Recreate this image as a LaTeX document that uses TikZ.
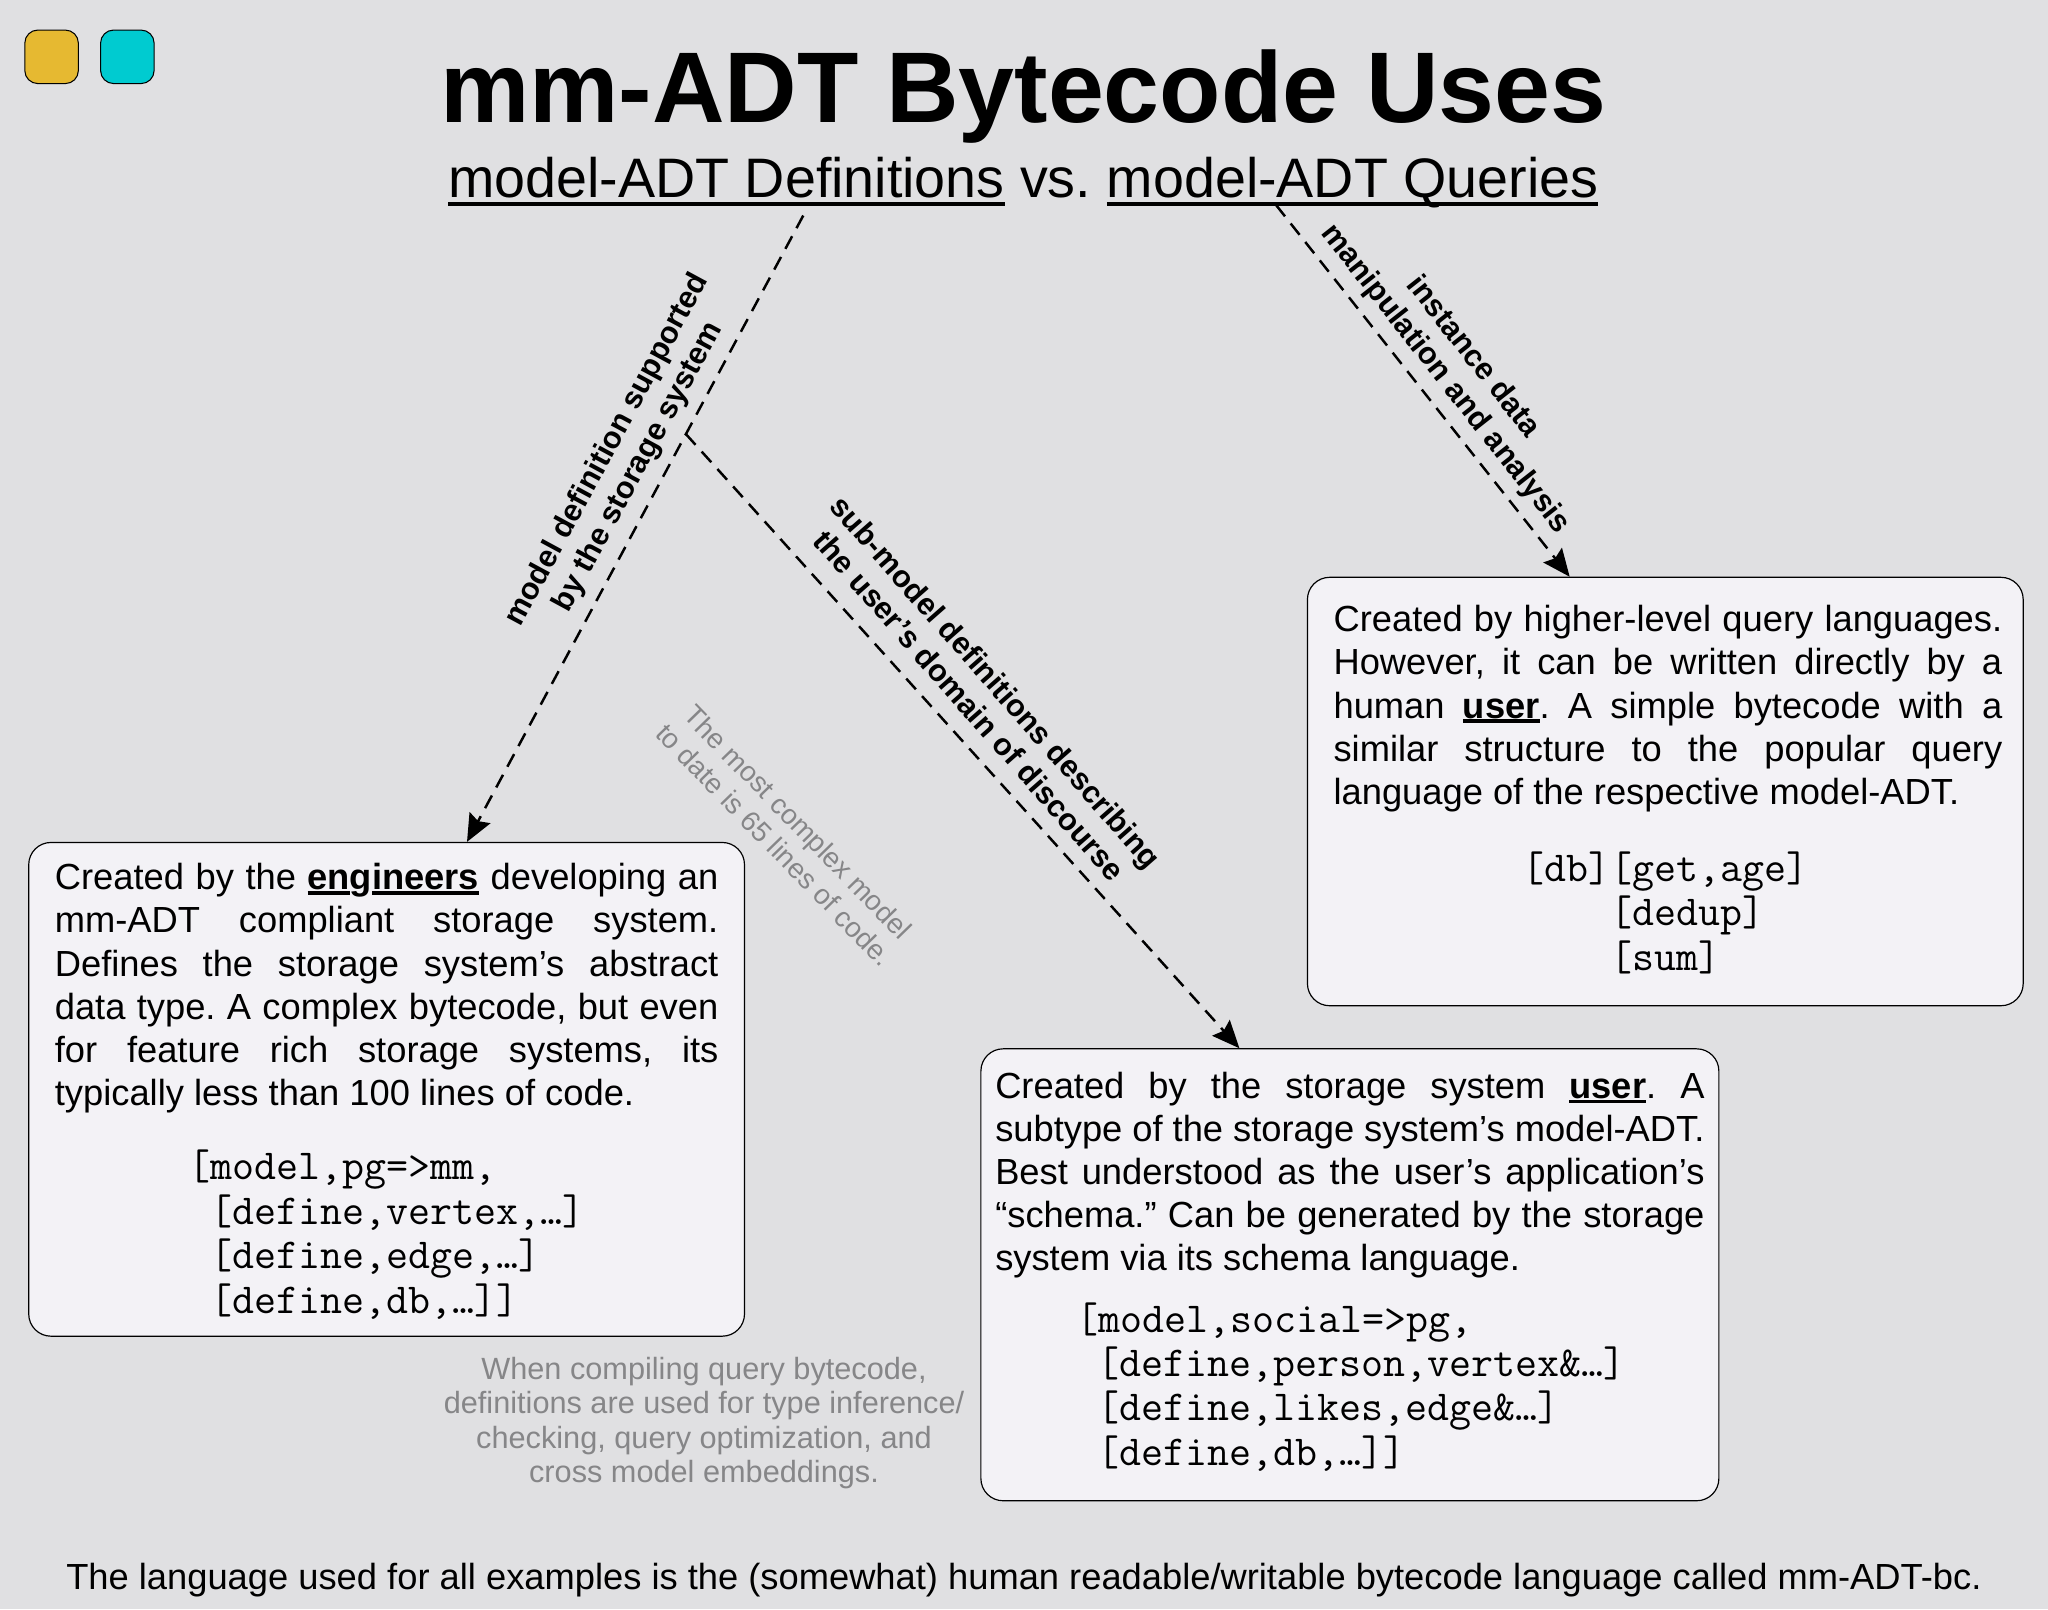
\documentclass[tikz,border=0pt]{standalone}
\usepackage{fontspec}
\setmainfont{Liberation Sans}
\usetikzlibrary{positioning, arrows.meta, calc}
\frenchspacing
\definecolor{canvas}{HTML}{E0E0E2}
\definecolor{boxfill}{HTML}{F3F2F6}
\definecolor{note}{HTML}{868688}
\definecolor{amber}{HTML}{E6B931}
\definecolor{teal}{HTML}{00CBD0}
\newcommand{\undertext}[3]{\setbox0=\hbox{#3}\rlap{\rule[#1]{\wd0}{#2}}\box0\relax}
\newcommand{\codeln}[2]{\par\noindent\hspace*{#1}#2}
\newcommand{\boxpad}[1]{\par\kern#1\relax}
\newcommand{\codefont}{\ttfamily\fontsize{32.7}{34}\selectfont}
\tikzstyle{swatch} = [rectangle, draw, rounded corners=10pt, minimum width=41pt, minimum height=41pt, line width=0.8pt]
\tikzstyle{textbox} = [rectangle, draw, fill=boxfill, rounded corners=17pt, line width=0.9pt, align=justify, inner ysep=0pt, font=\fontsize{27.8}{33}\selectfont]
\tikzstyle{edgelabel} = [align=center, font=\bfseries\fontsize{23.5}{27}\selectfont]
\tikzstyle{sidenote} = [align=center, text=note, font=\fontsize{21.4}{25}\selectfont]
\tikzstyle{line} = [draw, line width=1.9pt, dash pattern=on 11pt off 7pt, -{Stealth[length=21pt, width=18pt, inset=3pt]}]

\begin{document}
\begin{tikzpicture}[x=1pt, y=-1pt, node distance=58pt]
        \path [use as bounding box, fill=canvas] (0,0) rectangle (1568,1232);

        % Nodes
        \node (amberbox) [swatch, fill=amber] at (39.5,43.5) {};
        \node (tealbox) [swatch, fill=teal, right of=amberbox] {};

        \node (title) at (783.5,74) {\bfseries\fontsize{76.9}{80}\selectfont mm-ADT Bytecode Uses};
        \node (subtitle) [below of=title, yshift=-8pt] {\fontsize{42.6}{48}\selectfont \undertext{-6pt}{3pt}{model-ADT Definitions} vs. \undertext{-6pt}{3pt}{model-ADT Queries}};

        \node (enginebox) [textbox, text width=508pt, inner xsep=20pt, minimum height=378pt] at (296,834) {Created by the \textbf{\undertext{-4pt}{3pt}{en}g\undertext{-4pt}{3pt}{ineers}} developing an\linebreak mm-ADT compliant storage system.\linebreak Defines the storage system’s abstract\linebreak data type. A complex bytecode, but even\linebreak for feature rich storage systems, its\linebreak typically less than 100 lines of code.\par\vspace{23pt}\codefont
            \codeln{102pt}{[model,pg=>mm,}
            \codeln{119pt}{[define,vertex,…]}
            \codeln{119pt}{[define,edge,…]}
            \codeln{119pt}{[define,db,…]]}\boxpad{-3pt}};

        \node (querybox) [textbox, text width=516pt, inner xsep=16pt, minimum height=328pt] at (1275,606) {\leftskip=4pt Created by higher-level query languages.\linebreak However, it can be written directly by a\linebreak human \textbf{\undertext{-4pt}{3pt}{user}}. A simple bytecode with a\linebreak similar structure to the popular query\linebreak language of the respective model-ADT.\par\vspace{25pt}\codefont
            \codeln{145pt}{[db][get,age]}
            \codeln{212pt}{[dedup]}
            \codeln{212pt}{[sum]}\boxpad{3pt}};

        \node (userbox) [textbox, text width=543pt, inner xsep=11pt, minimum height=346pt] at (1033.5,976) {Created by the storage system \textbf{\undertext{-4pt}{3pt}{user}}. A\linebreak subtype of the storage system’s model-ADT.\linebreak Best understood as the user’s application’s\linebreak “schema.” Can be generated by the storage\linebreak system via its schema language.\par\vspace{13pt}\codefont
            \codeln{62pt}{[model,social=>pg,}
            \codeln{78pt}{[define,person,vertex\&…]}
            \codeln{78pt}{[define,likes,edge\&…]}
            \codeln{78pt}{[define,db,…]]}\boxpad{5pt}};

        \node (deflabel) [edgelabel, rotate=61.6] at (477,351) {model definition supported\\by the storage system};
        \node (sublabel) [edgelabel, rotate=-48.7] at (752.5,531) {sub-model definitions describing\\the user’s domain of discourse};
        \node (querylabel) [edgelabel, rotate=-51.8] at (1117,282) {instance data\\manipulation and analysis};

        \node (modelnote) [sidenote, rotate=-45.8] at (602,638) {The most complex model\\to date is 65 lines of code.};
        \node (compilenote) [sidenote, font=\fontsize{23.5}{26.4}\selectfont] at (539,1089.5) {When compiling query bytecode,\\definitions are used for type inference/\\checking, query optimization, and\\cross model embeddings.};

        \node (footer) [font=\fontsize{27.8}{33}\selectfont] at (784,1210) {The language used for all examples is the (somewhat) human readable/writable bytecode language called mm-ADT-bc.};

        \coordinate (defstart) at (615,165);
        \coordinate (querystart) at (977,157);

        % Edges
        \path [line] (defstart) -- coordinate[pos=0.349] (branch) (enginebox.72.4);
        \path [line] (branch) -- (userbox.116.6);
        \path [line] (querystart) -- (querybox.114);

    \end{tikzpicture}
\end{document}
